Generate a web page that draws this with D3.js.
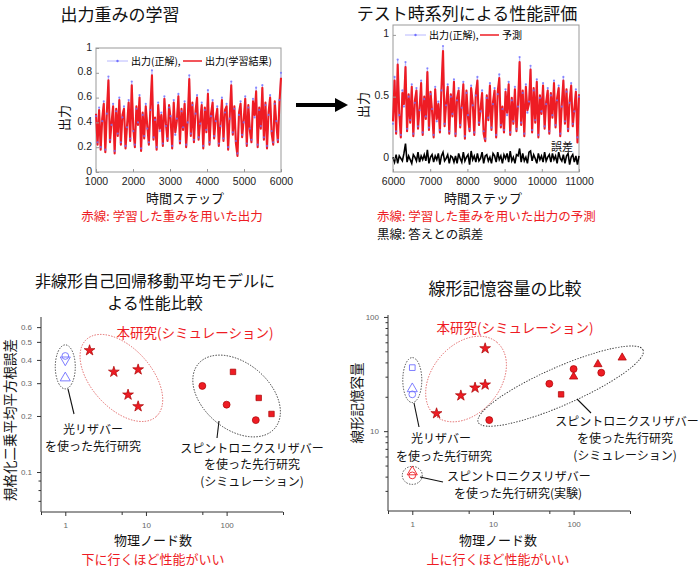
<!DOCTYPE html>
<html>
<head>
<meta charset="utf-8">
<script src="https://cdn.jsdelivr.net/npm/d3@7"></script>
<style>
  body { margin: 0; background: #fff; }
  text { font-family: "Noto Sans CJK JP", "Noto Sans", sans-serif; }
  .num { font-family: "Liberation Sans", Arial, sans-serif; }
</style>
</head>
<body>
<svg id="chart" width="700" height="567"></svg>
<script>
// ---- time series (coarse, one value per ~42 steps) ----
const trainTarget = [
  0.45,0.24,0.52,0.20,0.41,0.57,0.18,0.47,0.77,0.26,0.38,0.55,0.17,0.49,0.31,0.60,0.24,0.44,0.53,0.21,
  0.36,0.58,0.27,0.73,0.33,0.22,0.51,0.40,0.62,0.19,0.46,0.29,0.55,0.35,0.24,0.50,0.82,0.28,0.42,0.20,
  0.56,0.33,0.48,0.23,0.61,0.37,0.27,0.52,0.45,0.21,0.58,0.30,0.43,0.63,0.25,0.49,0.36,0.57,0.22,0.40,
  0.78,0.31,0.54,0.26,0.47,0.62,0.28,0.39,0.56,0.21,0.50,0.34,0.66,0.24,0.45,0.58,0.29,0.41,0.53,0.23,
  0.37,0.60,0.27,0.48,0.55,0.20,0.43,0.73,0.32,0.51,0.25,0.15,0.46,0.57,0.30,0.40,0.61,0.23,0.52,0.35,
  0.26,0.59,0.44,0.68,0.22,0.50,0.37,0.70,0.28,0.54,0.21,0.46,0.62,0.33,0.24,0.55,0.41,0.26,0.58,0.80
];
const trainOutput = [
  0.47,0.22,0.50,0.18,0.43,0.55,0.16,0.49,0.74,0.24,0.40,0.53,0.15,0.51,0.29,0.58,0.22,0.46,0.51,0.19,
  0.38,0.56,0.25,0.70,0.35,0.20,0.53,0.38,0.60,0.17,0.48,0.27,0.53,0.37,0.22,0.52,0.78,0.26,0.44,0.18,
  0.54,0.35,0.46,0.21,0.59,0.39,0.25,0.54,0.43,0.19,0.56,0.32,0.41,0.61,0.23,0.51,0.34,0.55,0.20,0.42,
  0.75,0.29,0.56,0.24,0.49,0.60,0.26,0.41,0.54,0.19,0.52,0.32,0.63,0.22,0.47,0.56,0.27,0.43,0.51,0.21,
  0.39,0.58,0.25,0.50,0.53,0.18,0.45,0.70,0.30,0.53,0.23,0.13,0.48,0.55,0.28,0.42,0.59,0.21,0.54,0.33,
  0.24,0.57,0.46,0.65,0.20,0.52,0.35,0.68,0.26,0.56,0.19,0.48,0.60,0.31,0.22,0.57,0.39,0.24,0.56,0.76
];
const testTarget = [
  0.28,0.66,0.22,0.80,0.35,0.19,0.55,0.42,0.78,0.24,0.50,0.31,0.60,0.20,0.45,0.57,0.26,0.39,0.63,0.21,
  0.48,0.34,0.73,0.25,0.52,0.40,0.19,0.58,0.30,0.46,0.23,0.55,0.91,0.28,0.43,0.60,0.22,0.50,0.36,0.64,
  0.20,0.47,0.57,0.27,0.41,0.62,0.18,0.53,0.35,0.24,0.59,0.43,0.21,0.51,0.66,0.29,0.38,0.55,0.22,0.16,
  0.49,0.33,0.61,0.25,0.44,0.57,0.19,0.52,0.68,0.27,0.40,0.23,0.56,0.35,0.62,0.21,0.47,0.30,0.58,0.24,
  0.42,0.82,0.29,0.53,0.20,0.60,0.37,0.46,0.75,0.23,0.55,0.31,0.64,0.19,0.49,0.38,0.61,0.26,0.44,0.57,
  0.22,0.51,0.35,0.63,0.27,0.47,0.59,0.20,0.42,0.66,0.30,0.54,0.24,0.45,0.61,0.28,0.38,0.56,0.17,0.50
];
const testPredict = [
  0.30,0.63,0.20,0.76,0.37,0.17,0.53,0.44,0.74,0.22,0.52,0.29,0.58,0.18,0.47,0.55,0.24,0.41,0.61,0.19,
  0.50,0.32,0.70,0.23,0.54,0.38,0.17,0.56,0.32,0.44,0.21,0.57,0.87,0.26,0.45,0.58,0.20,0.52,0.34,0.62,
  0.18,0.49,0.55,0.25,0.43,0.60,0.16,0.55,0.33,0.22,0.57,0.45,0.19,0.53,0.63,0.27,0.40,0.53,0.20,0.14,
  0.51,0.31,0.59,0.23,0.46,0.55,0.17,0.54,0.65,0.25,0.42,0.21,0.54,0.37,0.60,0.19,0.49,0.28,0.56,0.22,
  0.44,0.78,0.27,0.55,0.18,0.58,0.39,0.44,0.72,0.21,0.57,0.29,0.62,0.17,0.51,0.36,0.59,0.24,0.46,0.55,
  0.20,0.53,0.33,0.61,0.25,0.49,0.57,0.18,0.44,0.63,0.28,0.56,0.22,0.47,0.59,0.26,0.40,0.54,0.13,0.52
];
const testError = [
  0.01,-0.03,0.03,-0.04,0.02,0.00,-0.02,0.04,0.12,-0.03,0.02,-0.01,-0.04,0.03,0.01,-0.02,0.05,-0.03,0.02,-0.01,
  0.03,-0.02,0.07,-0.04,0.01,0.03,-0.03,0.02,-0.01,0.04,-0.05,0.02,0.05,-0.02,0.00,0.03,-0.04,0.02,0.01,-0.03,
  0.02,-0.04,0.04,0.00,-0.03,0.05,-0.02,0.01,0.03,-0.05,0.06,-0.01,0.02,-0.03,0.04,-0.02,0.00,0.05,-0.04,0.02,
  0.03,-0.02,0.01,-0.04,0.04,0.02,-0.03,0.05,-0.01,0.02,-0.04,0.03,0.00,0.04,-0.03,0.06,-0.02,0.01,-0.04,0.03,
  0.02,0.08,-0.03,0.04,-0.02,0.01,-0.04,0.05,0.06,-0.02,0.03,0.00,-0.04,0.04,-0.01,0.02,-0.03,0.05,-0.02,0.01,
  0.03,-0.03,0.04,-0.01,0.02,-0.04,0.05,0.00,-0.02,0.03,-0.04,0.02,0.04,-0.05,0.01,0.03,-0.03,0.02,-0.05,0.02
];
const trainRange = [1000, 6000];
const testRange = [6000, 11000];
const trainTicksX = [1000, 2000, 3000, 4000, 5000, 6000];
const trainTicksY = [0, 0.2, 0.4, 0.6, 0.8, 1];
const testTicksX = [6000, 7000, 8000, 9000, 10000, 11000];
const testTicksY = [0, 0.5, 1];

// ---- NARMA comparison (physical nodes vs NRMSE) ----
const narmaStarNodes = [2, 4, 8, 6, 8];
const narmaStarErr = [0.45, 0.345, 0.355, 0.26, 0.225];
const narmaCircleNodes = [50, 100, 230];
const narmaCircleErr = [0.29, 0.23, 0.19];
const narmaSquareNodes = [120, 250, 360];
const narmaSquareErr = [0.345, 0.25, 0.205];
const narmaOpticalShapes = ['circle', 'invtri', 'tri'];
const narmaOpticalNodes = [1, 1, 1];
const narmaOpticalErr = [0.42, 0.40, 0.32];
const narmaTicksY = [0.1, 0.2, 0.3, 0.4, 0.5, 0.6];
const narmaMinorY = [0.07, 0.08, 0.09];

// ---- linear memory capacity comparison ----
const mcStarNodes = [2, 4, 6, 8, 8];
const mcStarVal = [14.3, 20.5, 24, 25.5, 53];
const mcCircleNodes = [9, 50, 100, 220];
const mcCircleVal = [12.5, 26, 35, 32.5];
const mcSquareNodes = [70];
const mcSquareVal = [21];
const mcTriNodes = [100, 200, 400];
const mcTriVal = [30, 38.5, 44];
const mcOpticalShapes = ['square', 'tri', 'circle'];
const mcOpticalNodes = [1, 1, 1];
const mcOpticalVal = [36, 23.5, 21];
const mcExpShapes = ['tri', 'circle'];
const mcExpNodes = [1, 1];
const mcExpVal = [4.4, 4.1];
const mcTicksY = [10, 100];
const mcMinorY = [3, 4, 5, 6, 7, 8, 9, 20, 30, 40, 50, 60, 70, 80, 90];
const nodeTicks = [1, 10, 100];
const nodeMinor = [0.5, 5, 50, 500];

const RED = '#ee1c24';
const BLUE = '#6f6fff';
const svg = d3.select('#chart');

// ================= top panels =================
function timePanel(opt) {
  const { x, y, target, output, ticksX, ticksY, range } = opt;
  const n = target.length;
  const steps = d3.range(n).map(i => range[0] + i * (range[1] - range[0]) / (n - 1));
  const [x0, x1] = x.range();
  const [y0, y1] = y.range();
  const g = svg.append('g');

  g.append('rect')
  .attr('x', x0).attr('y', y1)
  .attr('width', x1 - x0).attr('height', y0 - y1)
  .attr('fill', 'none').attr('stroke', '#999').attr('stroke-width', 1);

  const line = (vals) => d3.line().x((d, i) => x(steps[i])).y(d => y(d))(vals);
  g.append('path').attr('d', line(target))
  .attr('fill', 'none').attr('stroke', '#b8b8ff').attr('stroke-width', 1.2);
  g.append('path').attr('d', line(output))
  .attr('fill', 'none').attr('stroke', RED).attr('stroke-width', 2.1).attr('stroke-linejoin', 'round');
  if (opt.error) {
    g.append('path').attr('d', line(opt.error))
    .attr('fill', 'none').attr('stroke', '#000').attr('stroke-width', 1.6);
  }
  g.selectAll('circle.tgt').data(target).join('circle')
  .attr('cx', (d, i) => x(steps[i])).attr('cy', d => y(d))
  .attr('r', 1.1).attr('fill', BLUE).attr('opacity', 0.8);

  const ax = g.append('g').attr('transform', `translate(0,${y0})`)
  .call(d3.axisBottom(x).tickValues(ticksX).tickSize(-3).tickPadding(6).tickFormat(d3.format('d')));
  const ay = g.append('g').attr('transform', `translate(${x0},0)`)
  .call(d3.axisLeft(y).tickValues(ticksY).tickSize(-3).tickPadding(4).tickFormat(d => String(d)));
  [ax, ay].forEach(a => {
    a.select('.domain').remove();
    a.selectAll('line').attr('stroke', '#999');
    a.selectAll('text').attr('class', 'num').attr('font-size', 10.5).attr('fill', '#222');
  });
  ay.selectAll('text').attr('dy', '0.2em');

  // legend
  const lg = g.append('g').attr('font-size', 10);
  lg.append('line').attr('x1', opt.legend[0]).attr('x2', opt.legend[0] + 21)
  .attr('y1', opt.legendY).attr('y2', opt.legendY).attr('stroke', '#b8b8ff');
  lg.append('circle').attr('cx', opt.legend[0] + 10.5).attr('cy', opt.legendY).attr('r', 1.2).attr('fill', BLUE);
  lg.append('text').attr('x', opt.legend[0] + 24).attr('y', opt.legendY + 3.5).text('出力(正解),');
  lg.append('line').attr('x1', opt.legend[1]).attr('x2', opt.legend[1] + 19)
  .attr('y1', opt.legendY).attr('y2', opt.legendY).attr('stroke', RED).attr('stroke-width', 1.5);
  lg.append('text').attr('x', opt.legend[1] + 22).attr('y', opt.legendY + 3.5).text(opt.outLabel);
  return g;
}

const xTrain = d3.scaleLinear().domain(trainRange).range([96, 281]);
const yTrain = d3.scaleLinear().domain([0, 1]).range([172, 48]);
timePanel({ x: xTrain, y: yTrain, target: trainTarget, output: trainOutput, range: trainRange,
  ticksX: trainTicksX, ticksY: trainTicksY, legend: [107, 183], legendY: 61, outLabel: '出力(学習結果)' });

const xTest = d3.scaleLinear().domain(testRange).range([393, 579]);
const yTest = d3.scaleLinear().domain([-0.11, 1.08]).range([172, 25]);
timePanel({ x: xTest, y: yTest, target: testTarget, output: testPredict, error: testError, range: testRange,
  ticksX: testTicksX, ticksY: testTicksY, legend: [405, 480], legendY: 35, outLabel: '予測' });

function label(x, y, txt, size, color, anchor, rotate) {
  const t = svg.append('text')
  .attr('x', x).attr('y', y)
  .attr('font-size', size)
  .attr('fill', color || '#111')
  .attr('text-anchor', anchor || 'middle')
  .attr('dominant-baseline', 'central')
  .text(txt);
  if (rotate) t.attr('transform', `rotate(${rotate},${x},${y})`);
  return t;
}

label(120, 13, '出力重みの学習', 17);
label(467, 12, 'テスト時系列による性能評価', 17);
label(185, 197, '時間ステップ', 13);
label(483, 197, '時間ステップ', 13);
label(63, 118, '出力', 13, '#111', 'middle', -90);
label(362, 105, '出力', 13, '#111', 'middle', -90);
label(562, 146, '誤差', 11);
label(172, 215, '赤線: 学習した重みを用いた出力', 12.5, RED);
label(377, 215, '赤線: 学習した重みを用いた出力の予測', 12.5, RED, 'start');
label(377, 233, '黒線: 答えとの誤差', 12.5, '#111', 'start');

// arrow between the top panels
svg.append('path')
.attr('d', 'M296,105 L337,105')
.attr('stroke', '#000').attr('stroke-width', 4);
svg.append('path')
.attr('d', 'M335,98 L348,105 L335,112 Z')
.attr('fill', '#000');

// ================= bottom panels =================
const symbolOf = {
  star: d3.symbol().type(d3.symbolStar).size(36),
  circle: d3.symbol().type(d3.symbolCircle).size(38),
  square: d3.symbol().type(d3.symbolSquare).size(30),
  tri: d3.symbol().type(d3.symbolTriangle).size(30)
};
const hollowSize = { circle: 36, tri: 44, invtri: 44, square: 32 };

function filledPoints(g, x, y, nodes, vals, shape) {
  g.selectAll(null).data(nodes).join('path')
  .attr('d', symbolOf[shape]())
  .attr('transform', (d, i) => `translate(${x(d)},${y(vals[i])})`)
  .attr('fill', RED).attr('stroke', '#a00').attr('stroke-width', 0.7);
}

function hollowPoints(g, x, y, nodes, vals, shapes, color) {
  g.selectAll(null).data(nodes).join('path')
  .attr('d', (d, i) => {
    const s = shapes[i];
    const type = s === 'circle' ? d3.symbolCircle : s === 'square' ? d3.symbolSquare : d3.symbolTriangle;
    return d3.symbol().type(type).size(hollowSize[s])();
  })
  .attr('transform', (d, i) => `translate(${x(d)},${y(vals[i])})` + (shapes[i] === 'invtri' ? ' rotate(180)' : ''))
  .attr('fill', 'none').attr('stroke', color).attr('stroke-width', 0.9);
}

function ring(g, cx, cy, rx, ry, angle, color) {
  g.append('ellipse')
  .attr('cx', 0).attr('cy', 0).attr('rx', rx).attr('ry', ry)
  .attr('transform', `translate(${cx},${cy}) rotate(${angle})`)
  .attr('fill', 'none').attr('stroke', color).attr('stroke-width', 0.9)
  .attr('stroke-dasharray', '1.4,1.4');
}

function leader(g, x1, y1, x2, y2) {
  g.append('line').attr('x1', x1).attr('y1', y1).attr('x2', x2).attr('y2', y2)
  .attr('stroke', '#111').attr('stroke-width', 1.1);
}

function logAxes(g, x, y, ticksY, minorY) {
  const [x0, x1] = x.range();
  const [y0, y1] = y.range();
  g.append('path').attr('d', `M${x0},${y1} V${y0} H${x1}`)
  .attr('fill', 'none').attr('stroke', '#333').attr('stroke-width', 1);
  const ax = g.append('g').attr('transform', `translate(0,${y0})`)
  .call(d3.axisBottom(x).tickValues(nodeTicks).tickSize(4).tickPadding(6).tickFormat(d3.format('d')));
  const ay = g.append('g').attr('transform', `translate(${x0},0)`)
  .call(d3.axisLeft(y).tickValues(ticksY).tickSize(4).tickPadding(5).tickFormat(d => String(d)));
  const mx = g.append('g').attr('transform', `translate(0,${y0})`)
  .call(d3.axisBottom(x).tickValues(nodeMinor).tickSize(3).tickFormat(''));
  const my = g.append('g').attr('transform', `translate(${x0},0)`)
  .call(d3.axisLeft(y).tickValues(minorY).tickSize(2.5).tickFormat(''));
  [ax, ay, mx, my].forEach(a => {
    a.select('.domain').remove();
    a.selectAll('line').attr('stroke', '#333');
    a.selectAll('text').attr('class', 'num').attr('font-size', 8).attr('fill', '#666');
  });
}

// ---- NARMA panel ----
const xNarma = d3.scaleLog().domain([0.5, 500]).range([41, 283]);
const yNarma = d3.scaleLog().domain([0.061, 0.68]).range([512, 317]);
const gN = svg.append('g');
logAxes(gN, xNarma, yNarma, narmaTicksY, narmaMinorY);
ring(gN, xNarma(1), yNarma(0.367), 10, 22, 0, '#333');
ring(gN, xNarma(4.96), yNarma(0.32), 52, 30, 48, '#e06060');
ring(gN, xNarma(133), yNarma(0.256), 50, 33, 40, '#333');
hollowPoints(gN, xNarma, yNarma, narmaOpticalNodes, narmaOpticalErr, narmaOpticalShapes, BLUE);
filledPoints(gN, xNarma, yNarma, narmaStarNodes, narmaStarErr, 'star');
filledPoints(gN, xNarma, yNarma, narmaCircleNodes, narmaCircleErr, 'circle');
filledPoints(gN, xNarma, yNarma, narmaSquareNodes, narmaSquareErr, 'square');
leader(gN, 68, 389, 74, 414);
leader(gN, 219, 421, 217, 438);

label(155, 280, '非線形自己回帰移動平均モデルに', 16);
label(155, 302, 'よる性能比較', 16);
label(195, 332, '本研究(シミュレーション)', 13.5, RED);
label(93, 428, '光リザバー', 12);
label(93, 445, 'を使った先行研究', 12);
label(252, 447, 'スピントロニクスリザバー', 12);
label(252, 463, 'を使った先行研究', 12);
label(252, 480, '(シミュレーション)', 12);
label(153, 539, '物理ノード数', 13);
label(153, 558, '下に行くほど性能がいい', 13, RED);
label(9, 420, '規格化二乗平均平方根誤差', 13.5, '#111', 'middle', -90);

// ---- memory capacity panel ----
const xMc = d3.scaleLog().domain([0.5, 500]).range([388, 630]);
const yMc = d3.scaleLog().domain([2, 104]).range([511, 315]);
const gM = svg.append('g');
logAxes(gM, xMc, yMc, mcTicksY, mcMinorY);
ring(gM, xMc(1), yMc(28), 9.5, 22.5, 0, '#333');
ring(gM, xMc(4.64), yMc(28.6), 48, 34, -50, '#e06060');
ring(gM, xMc(69), yMc(24.8), 90, 19, -23.7, '#333');
ring(gM, xMc(1), yMc(4.1), 10, 9, 0, '#333');
hollowPoints(gM, xMc, yMc, mcOpticalNodes, mcOpticalVal, mcOpticalShapes, BLUE);
hollowPoints(gM, xMc, yMc, mcExpNodes, mcExpVal, mcExpShapes, RED);
filledPoints(gM, xMc, yMc, mcStarNodes, mcStarVal, 'star');
filledPoints(gM, xMc, yMc, mcCircleNodes, mcCircleVal, 'circle');
filledPoints(gM, xMc, yMc, mcSquareNodes, mcSquareVal, 'square');
filledPoints(gM, xMc, yMc, mcTriNodes, mcTriVal, 'tri');
leader(gM, 414, 403, 419, 427);
leader(gM, 577, 399, 591, 413);
leader(gM, 420, 477, 443, 482);

label(505, 287, '線形記憶容量の比較', 17);
label(515, 327, '本研究(シミュレーション)', 13.5, RED);
label(441, 437, '光リザバー', 12);
label(444, 455, 'を使った先行研究', 12);
label(627, 420, 'スピントロニクスリザバー', 12);
label(625, 437, 'を使った先行研究', 12);
label(625, 454, '(シミュレーション)', 12);
label(447, 475, 'スピントロニクスリザバー', 12, '#111', 'start');
label(454, 492, 'を使った先行研究(実験)', 12, '#111', 'start');
label(498, 539, '物理ノード数', 13);
label(498, 558, '上に行くほど性能がいい', 13, RED);
label(356, 403, '線形記憶容量', 13.5, '#111', 'middle', -90);
</script>
</body>
</html>
